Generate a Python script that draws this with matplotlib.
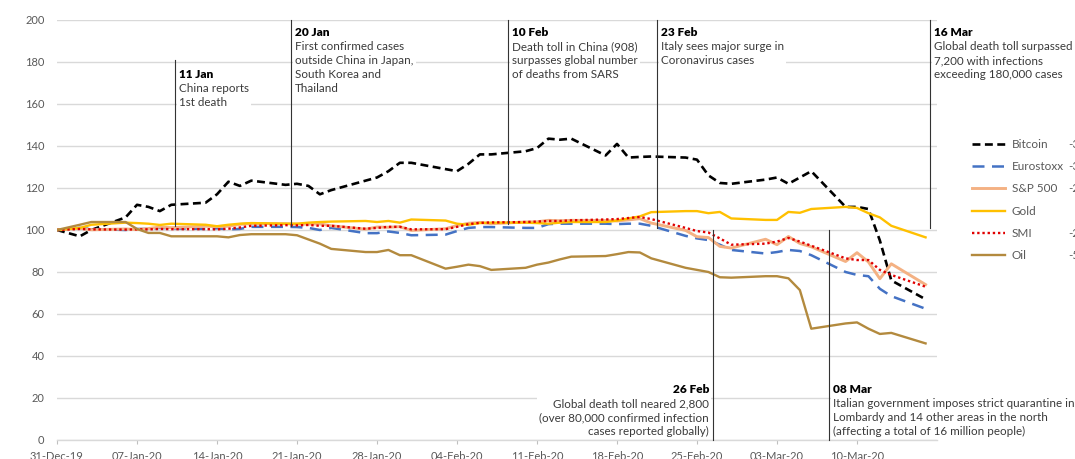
import matplotlib
matplotlib.use("Agg")

import matplotlib.pyplot as plt
import matplotlib.transforms as mtransforms
from matplotlib.patches import Rectangle
from matplotlib.transforms import Bbox
import pandas as pd

plt.rcParams["font.family"] = ["Lato", "DejaVu Sans"]

# ----- data ----------------------------------------------------------
# trading days, 31 Dec 2019 -> 16 Mar 2020, indexed to 100 on 31 Dec
DATES = pd.bdate_range("2019-12-31", "2020-03-16").drop(pd.Timestamp("2020-01-01"))

BITCOIN = [100,
           97, 100,
           106, 112, 111, 109, 112,
           113, 117, 123, 121, 123.5,
           121.5, 122, 121, 117, 119,
           123.5, 125, 128, 132, 132,
           129, 128, 131.5, 136, 136,
           137.5, 139, 143.5, 143, 143.5,
           135.5, 141, 134.5, 134.8, 135,
           134.5, 133.5, 126, 122.4, 122,
           124, 125, 122, 125, 128,
           111, 111, 110, 95, 76,
           67]
EUROSTOXX = [100,
             101, 100.5,
             100, 100.5, 100.5, 101, 100.8,
             100.5, 100.8, 100.3, 100.5, 101.5,
             101.5, 101.4, 101, 100, 101,
             98.5, 98.5, 99.3, 98.6, 97.5,
             97.8, 99.5, 101, 101.4, 101.4,
             101, 101, 102.8, 103, 103,
             103, 102.8, 103, 103, 102,
             97.2, 96, 95.2, 93, 90.5,
             88.8, 89.5, 90.5, 90, 88,
             80, 78.6, 78, 72, 68.5,
             62.5]
SP500 = [100,
         100.8, 100.1,
         100.5, 100.2, 100.7, 101.4, 101.1,
         101.8, 101.6, 101.8, 102.7, 103.1,
         103.0, 102.8, 102.8, 102.9, 102,
         100.4, 101.4, 101.3, 101.6, 99.8,
         100.6, 102.1, 103.2, 103.6, 103,
         103.8, 103.9, 104.6, 104.4, 104.6,
         104.5, 104.3, 104.8, 105.4, 103.3,
         99.8, 96.8, 96.4, 92.2, 91.4,
         95.6, 93, 96.9, 93.6, 92,
         85, 89.2, 84.8, 76.8, 83.9,
         74]
GOLD = [100,
        101, 102.5,
        103.5, 103.3, 103, 102.4, 103,
        102.5, 101.8, 102.5, 103, 103.3,
        103, 103, 103.5, 103.8, 104,
        104.3, 103.8, 104.3, 103.5, 105,
        104.5, 103, 102.5, 103.3, 103.5,
        103.5, 103.3, 103, 103.5, 103.8,
        103.8, 104.5, 105.5, 106.5, 108.5,
        109, 109, 108, 108.6, 105.5,
        104.8, 104.8, 108.6, 108.2, 110,
        111, 110.5, 108, 106, 102,
        96.5]
SMI = [100,
       100.5, 100.3,
       100.2, 100.3, 100.3, 100.5, 100.4,
       100.4, 100.3, 100.6, 101.2, 102,
       102.3, 102.2, 102.4, 102, 102,
       100.6, 101, 101.5, 101.5, 100.3,
       100.4, 101.5, 102.8, 103.4, 103.6,
       103.8, 104, 104.3, 104.3, 104.6,
       105, 105.2, 105.7, 106.2, 105.2,
       101, 99.5, 98.8, 96, 93,
       93.5, 94.5, 96.2, 94.5, 92.5,
       86.5, 85.7, 85.7, 81, 78.6,
       73]
OIL = [100,
       102.5, 103.8,
       103.8, 100.5, 98.6, 98.6, 97,
       97, 97, 96.5, 97.6, 98,
       98, 97.5, 95.5, 93.5, 91,
       89.5, 89.5, 90.5, 88, 88,
       81.6, 82.5, 83.5, 82.8, 81,
       82, 83.5, 84.5, 86, 87.3,
       87.6, 88.5, 89.5, 89.3, 86.5,
       82, 81, 80, 77.5, 77.3,
       78, 78, 77, 71.4, 53,
       55.5, 56, 53, 50.5, 51,
       46]

SERIES = ["Bitcoin", "Eurostoxx", "S&P 500", "Gold", "SMI", "Oil"]
VALUES = [BITCOIN, EUROSTOXX, SP500, GOLD, SMI, OIL]
CHANGE_LABELS = ["-33%", "-38%", "-26%", "", "-28%", "-54%"]

EVENT_DATES = pd.to_datetime([
    "2020-01-10 07:00", "2020-01-20 12:00", "2020-02-08 12:00",
    "2020-02-21 12:00", "2020-02-26 10:00", "2020-03-07 14:00",
    "2020-03-16 10:00",
])
EVENT_TITLES = ["11 Jan", "20 Jan", "10 Feb", "23 Feb", "26 Feb", "08 Mar", "16 Mar"]
EVENT_TEXTS = [
    ["China reports", "1st death"],
    ["First confirmed cases", "outside China in Japan,", "South Korea and", "Thailand"],
    ["Death toll in China (908)", "surpasses global number", "of deaths from SARS"],
    ["Italy sees major surge in", "Coronavirus cases"],
    ["Global death toll neared 2,800", "(over 80,000 confirmed infection",
     "cases reported globally)"],
    ["Italian government imposes strict quarantine in",
     "Lombardy and 14 other areas in the north",
     "(affecting a total of 16 million people)"],
    ["Global death toll surpassed", "7,200 with infections",
     "exceeding 180,000 cases"],
]

# ----- styles --------------------------------------------------------
STYLES = [
    dict(color="black", lw=1.9, ls=(0, (3.0, 1.7))),
    dict(color="#4472C4", lw=1.8, ls=(0, (4.8, 3.0))),
    dict(color="#F4B183", lw=2.1, ls="-"),
    dict(color="#FFC000", lw=1.7, ls="-"),
    dict(color="#E00000", lw=1.7, ls=(0, (1.0, 1.2))),
    dict(color="#B38A3E", lw=1.7, ls="-"),
]
# (line bottom, line top, title centre value, alignment)
EVENT_LAYOUT = [
    (102, 181, 174.0, "left"),
    (102, 200, 194.0, "left"),
    (103, 200, 194.0, "left"),
    (101, 200, 194.0, "left"),
    (0, 100, 24.0, "right"),
    (0, 100, 24.0, "left"),
    (101, 200, 194.0, "left"),
]
LINE_PITCH = 14 / 2.1   # 14 px between text lines, in value units
GRID = "#D9D9D9"
TICK_TXT = "#595959"
BODY_TXT = "#3A3A3A"

W, H = 1075, 459
fig = plt.figure(figsize=(W / 100, H / 100), dpi=100)
ax = fig.add_axes([57 / W, 19 / H, 880 / W, 420 / H])

for name, vals, st in zip(SERIES, VALUES, STYLES):
    ax.plot(DATES, vals, label=name, zorder=2, **st)

ax.set_xlim(pd.Timestamp("2019-12-31"), pd.Timestamp("2020-03-17"))
ax.set_ylim(0, 200)
ax.set_yticks(range(0, 201, 20))
ticks = pd.date_range("2019-12-31", "2020-03-10", freq="7D")
ax.set_xticks(ticks)
ax.set_xticklabels([t.strftime("%d-%b-%y") for t in ticks])
ax.tick_params(axis="y", length=0, pad=9, labelsize=8, labelcolor=TICK_TXT)
ax.tick_params(axis="x", length=3, color="#BFBFBF", pad=5,
               labelsize=8, labelcolor=TICK_TXT)
ax.yaxis.grid(True, color=GRID, linewidth=1.0, zorder=0)
ax.set_axisbelow(True)
for side in ("left", "right", "top"):
    ax.spines[side].set_visible(False)
ax.spines["bottom"].set_color(GRID)
ax.spines["bottom"].set_linewidth(1.0)

# ----- event annotations ---------------------------------------------
groups = []
for date, title, body, (y0, y1, ty, align) in zip(
        EVENT_DATES, EVENT_TITLES, EVENT_TEXTS, EVENT_LAYOUT):
    ax.plot([date, date], [y0, y1], color="#333333", lw=0.8, zorder=3.5,
            clip_on=False)
    dx = 4 if align == "left" else -4
    tr = mtransforms.offset_copy(ax.transData, fig=fig, x=dx, y=0, units="dots")
    texts = [ax.text(date, ty, title, transform=tr, ha=align, va="center",
                     fontsize=8.6, fontweight="heavy", color="black",
                     zorder=4, clip_on=False)]
    for k, line in enumerate(body):
        texts.append(ax.text(date, ty - LINE_PITCH * (k + 1), line, transform=tr,
                             ha=align, va="center", fontsize=8.4,
                             color=BODY_TXT, zorder=4, clip_on=False))
    groups.append(texts)

# white panels behind each text block (hide the grid lines)
fig.canvas.draw()
renderer = fig.canvas.get_renderer()
for texts in groups:
    bb = Bbox.union([t.get_window_extent(renderer) for t in texts])
    ax.add_patch(Rectangle((bb.x0 - 2, bb.y0 - 2), bb.width + 4, bb.height + 4,
                           transform=None, facecolor="white", edgecolor="none",
                           zorder=3, clip_on=False))

# ----- legend --------------------------------------------------------
handles, labels = ax.get_legend_handles_labels()
leg = fig.legend(handles, labels, loc="upper left",
                 bbox_to_anchor=(972 / W, 1 - 139 / H),
                 frameon=False, fontsize=8.5, handlelength=2.8,
                 handletextpad=0.55, labelspacing=0.95,
                 borderpad=0, borderaxespad=0)
for txt in leg.get_texts():
    txt.set_color(TICK_TXT)
fig.canvas.draw()
for txt, ch in zip(leg.get_texts(), CHANGE_LABELS):
    bb = txt.get_window_extent(renderer)
    fig.text(1068 / W, (bb.y0 + bb.y1) / 2 / H, ch, fontsize=8.5,
             color=TICK_TXT, va="center", ha="left")

fig.savefig("out.png", dpi=100, facecolor="white")
